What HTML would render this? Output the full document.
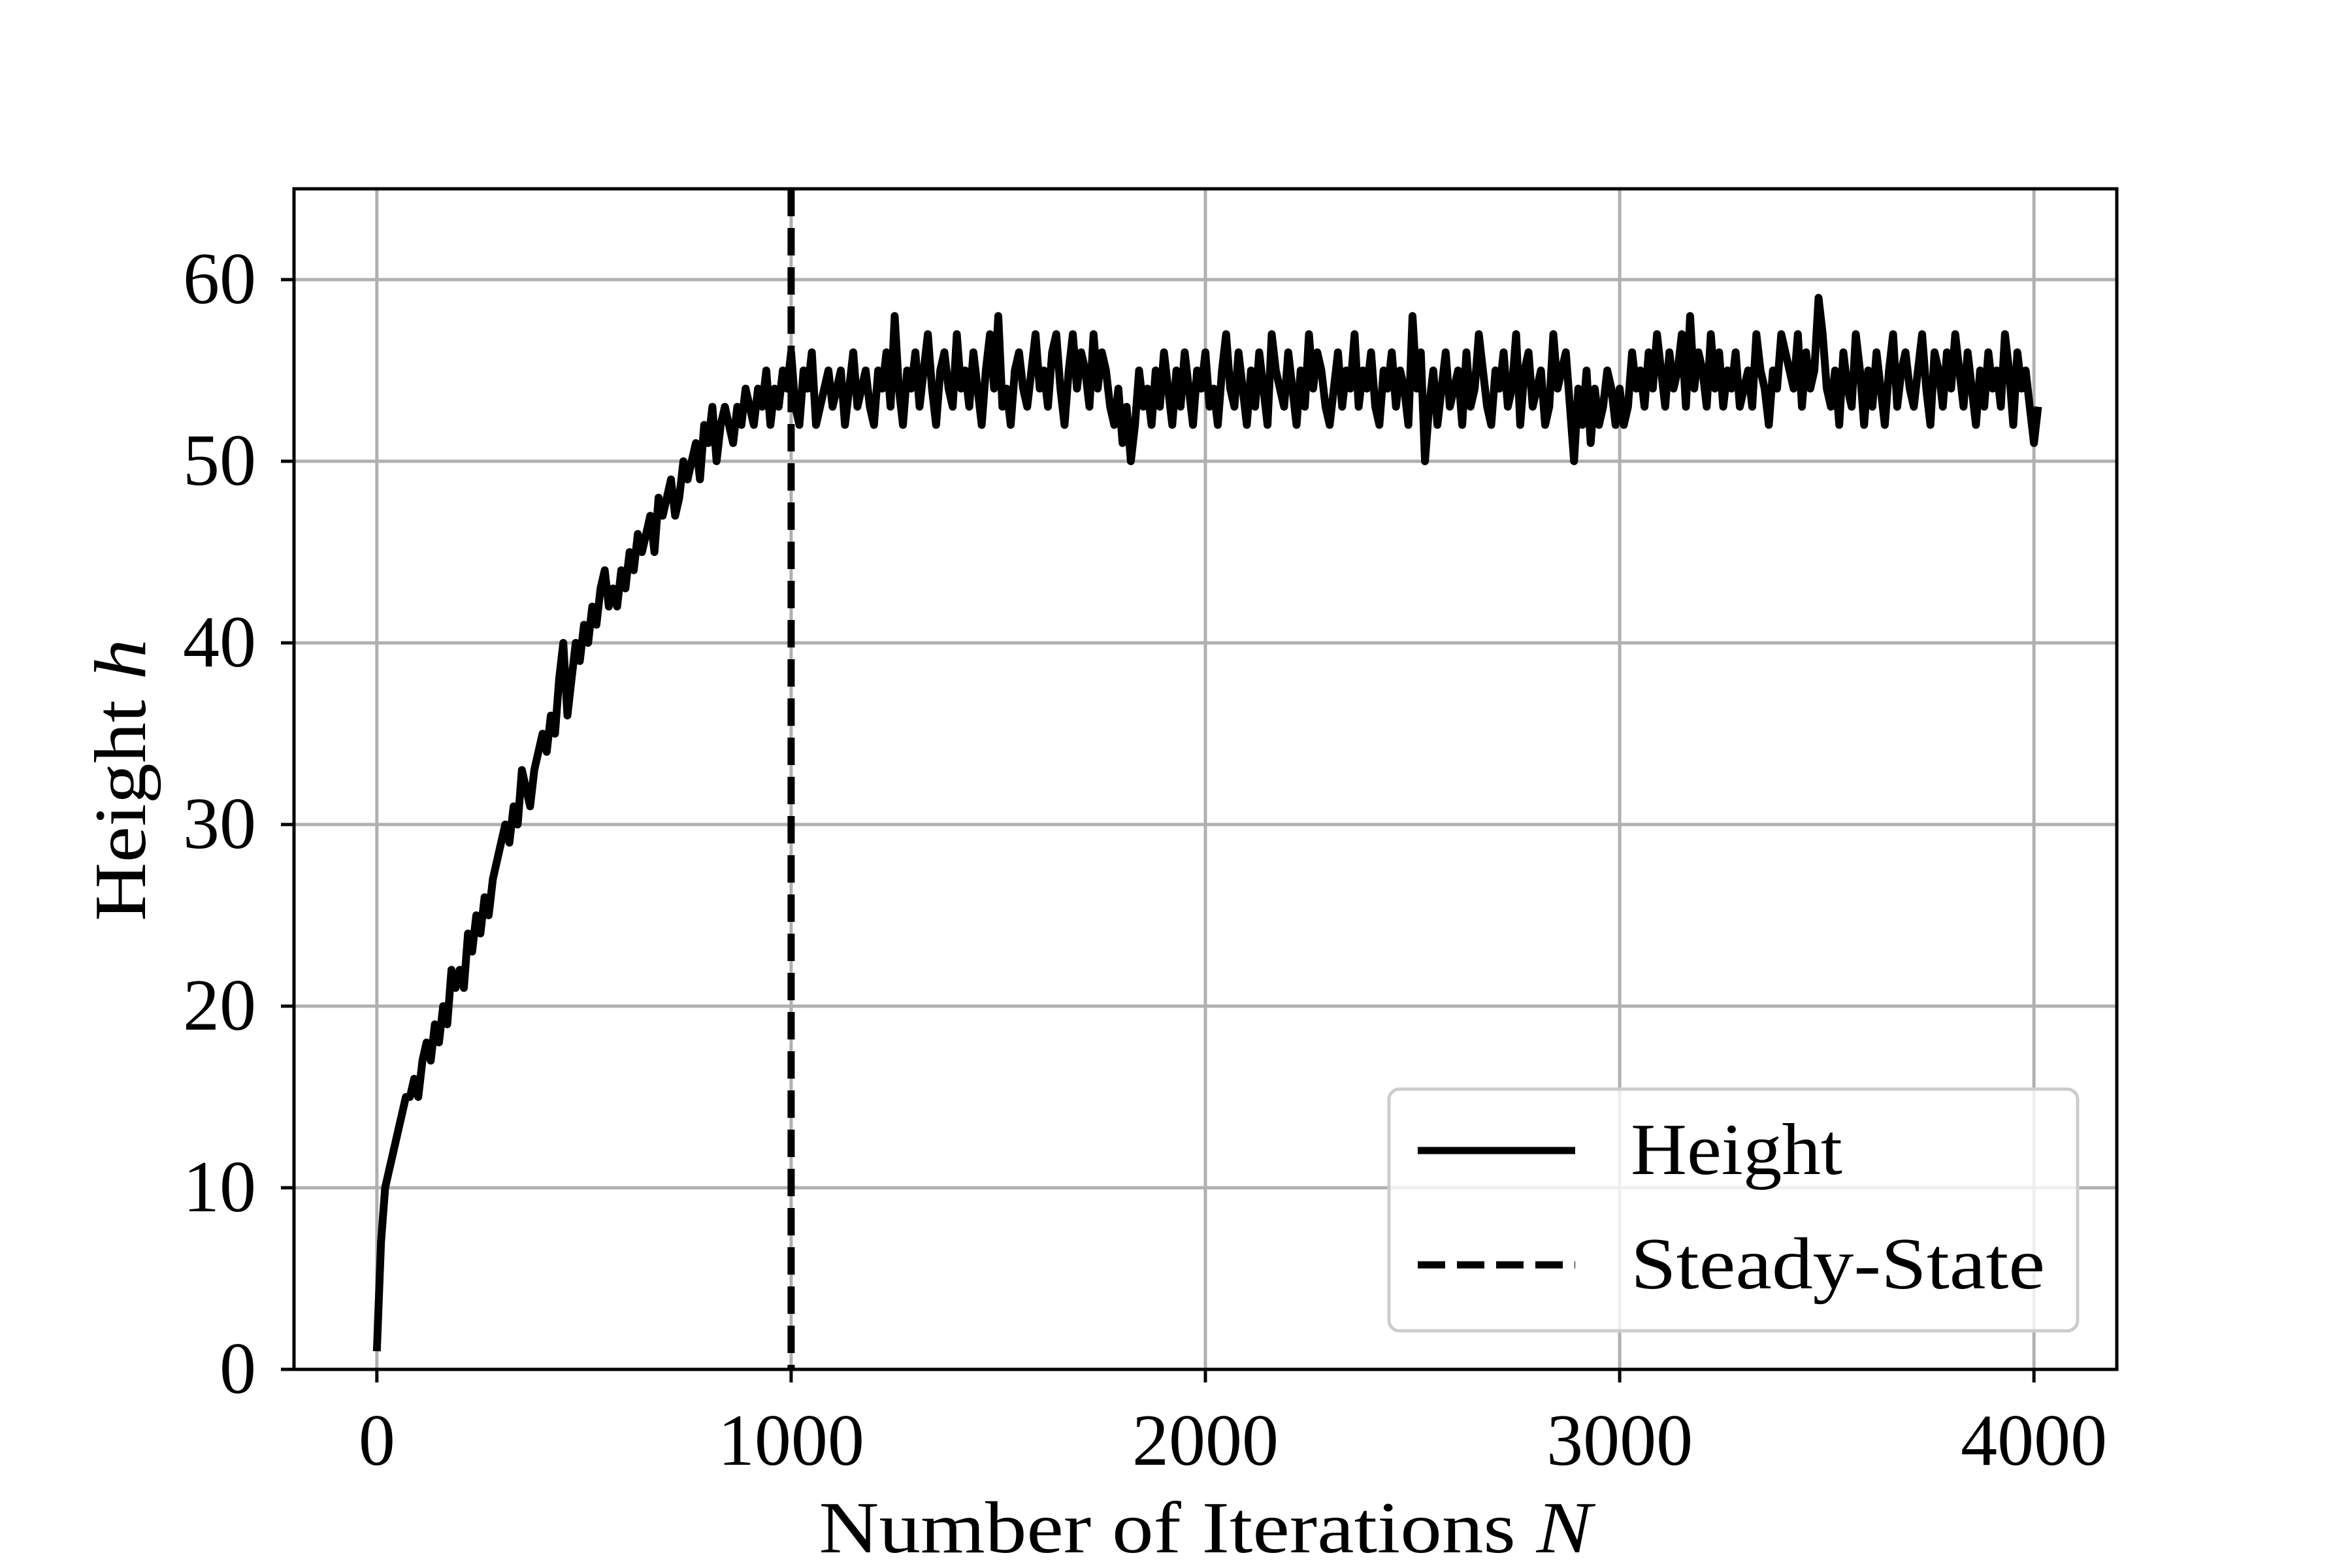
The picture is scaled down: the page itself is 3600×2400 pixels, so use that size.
<!DOCTYPE html>
<html>
<head>
<meta charset="utf-8">
<style>
html,body{margin:0;padding:0;background:#fff;}
svg{display:block;}
text{font-family:"Liberation Serif",serif;fill:#000;}
</style>
</head>
<body>
<svg id="chart" width="3600" height="2400" viewBox="0 0 3600 2400" xmlns="http://www.w3.org/2000/svg">
<rect x="0" y="0" width="3600" height="2400" fill="#fff"/>
<g id="grid"></g>
<g id="series"></g>
<rect x="450" y="289" width="2790" height="1807" fill="none" stroke="#000" stroke-width="5"/>
<g id="ticks"></g>
<text x="1845" y="2376" font-size="112" text-anchor="middle" textLength="1183" lengthAdjust="spacingAndGlyphs">Number of Iterations <tspan font-style="italic">N</tspan></text>
<text transform="translate(222,1194) rotate(-90)" font-size="112" text-anchor="middle" textLength="432" lengthAdjust="spacingAndGlyphs">Height <tspan font-style="italic">h</tspan></text>
<g>
<rect x="2126" y="1667" width="1054" height="370" rx="16" ry="16" fill="#fff" fill-opacity="0.8" stroke="#ccc" stroke-width="5"/>
<line x1="2170" y1="1761" x2="2411" y2="1761" stroke="#000" stroke-width="11"/>
<text x="2496" y="1797" font-size="112" textLength="324" lengthAdjust="spacingAndGlyphs">Height</text>
<line x1="2170" y1="1936" x2="2411" y2="1936" stroke="#000" stroke-width="11" stroke-dasharray="42 18"/>
<text x="2496" y="1972" font-size="112" textLength="634" lengthAdjust="spacingAndGlyphs">Steady-State</text>
</g>
</svg>
<script>
const xTicks = [0, 1000, 2000, 3000, 4000];
const yTicks = [0, 10, 20, 30, 40, 50, 60];
const steadyStateX = [1000];
const iterStep = 10;
const heights = [
1,7,10,11,12,13,14,15,15,16,
15,17,18,17,19,18,20,19,22,21,
22,21,24,23,25,24,26,25,27,28,
29,30,29,31,30,33,32,31,33,34,
35,34,36,35,38,40,36,38,40,39,
41,40,42,41,43,44,42,43,42,44,
43,45,44,46,45,46,47,45,48,47,
48,49,47,48,50,49,50,51,49,52,
51,53,50,52,53,52,51,53,52,54,
53,52,54,53,55,52,54,53,55,54,
56,53,52,55,54,56,52,53,54,55,53,54,55,52,54,56,53,54,55,53,52,55,54,56,53,58,54,52,55,54,56,53,55,57,54,52,55,56,54,53,57,54,55,53,56,54,52,55,57,54,58,53,54,52,55,56,54,53,55,57,
54,55,53,56,57,54,52,55,57,54,56,55,53,57,54,56,55,53,52,54,51,53,50,52,55,53,54,52,55,53,56,54,52,55,53,56,54,52,55,54,
56,53,54,52,55,57,54,53,56,54,52,55,53,56,54,52,57,55,54,53,56,54,52,55,53,57,54,56,55,53,52,54,56,53,55,54,57,53,55,54,56,53,52,55,54,56,53,55,54,52,58,54,56,50,53,55,52,54,56,53,
54,55,52,56,53,54,57,55,53,52,55,54,56,53,54,57,52,55,56,53,54,55,52,53,57,54,55,56,53,50,54,52,55,51,54,52,53,55,54,52,
54,52,53,56,54,55,53,56,54,57,55,53,56,54,55,57,53,58,54,56,55,53,57,54,56,53,55,54,56,53,54,55,53,57,55,54,52,55,54,57,56,55,54,57,53,56,54,55,59,57,54,53,55,52,56,54,53,57,55,52,
55,53,56,54,52,55,57,53,55,56,54,53,55,57,54,52,56,55,53,56,54,57,55,53,56,54,52,55,53,56,54,55,53,57,55,52,56,54,55,53,51,53
];
const L=450,R=3240,T=289,B=2096;
const xMin=-200,xMax=4200,yMin=0,yMax=65;
function sx(v){return L+(v-xMin)/(xMax-xMin)*(R-L);}
function sy(v){return B-(v-yMin)/(yMax-yMin)*(B-T);}
const NS="http://www.w3.org/2000/svg";
const grid=document.getElementById('grid'),ticks=document.getElementById('ticks'),series=document.getElementById('series');
function mk(tag,attrs,parent){const e=document.createElementNS(NS,tag);for(const k in attrs)e.setAttribute(k,attrs[k]);parent.appendChild(e);return e;}
xTicks.forEach(v=>{
  const x=sx(v);
  const g=mk('line',{x1:x,y1:T,x2:x,y2:B,stroke:'#b0b0b0','stroke-width':5},grid);
  
  
  const t=mk('line',{x1:x,y1:B,x2:x,y2:B+20,stroke:'#000','stroke-width':5},ticks);
  
  
  const l=mk('text',{x:x,y:2242,'font-size':112,'text-anchor':'middle'},ticks);
  l.textContent=String(v);
  
  
});
yTicks.forEach(v=>{
  const y=sy(v);
  const g=mk('line',{x1:L,y1:y,x2:R,y2:y,stroke:'#b0b0b0','stroke-width':5},grid);
  
  
  const t=mk('line',{x1:L-20,y1:y,x2:L,y2:y,stroke:'#000','stroke-width':5},ticks);
  
  
  const l=mk('text',{x:392,y:y+36,'font-size':112,'text-anchor':'end'},ticks);
  l.textContent=String(v);
  
  
});
let d='';
heights.forEach((h,i)=>{d+=(i?'L':'M')+sx(i*iterStep).toFixed(1)+' '+sy(h).toFixed(1);});
const p=mk('path',{d:d,fill:'none',stroke:'#000','stroke-width':12,'stroke-linejoin':'round'},series);


steadyStateX.forEach(v=>{
  const x=sx(v);
  const s=mk('line',{x1:x,y1:T,x2:x,y2:B,stroke:'#000','stroke-width':11,'stroke-dasharray':'42 18'},series);
  
  
});
</script>
</body>
</html>
